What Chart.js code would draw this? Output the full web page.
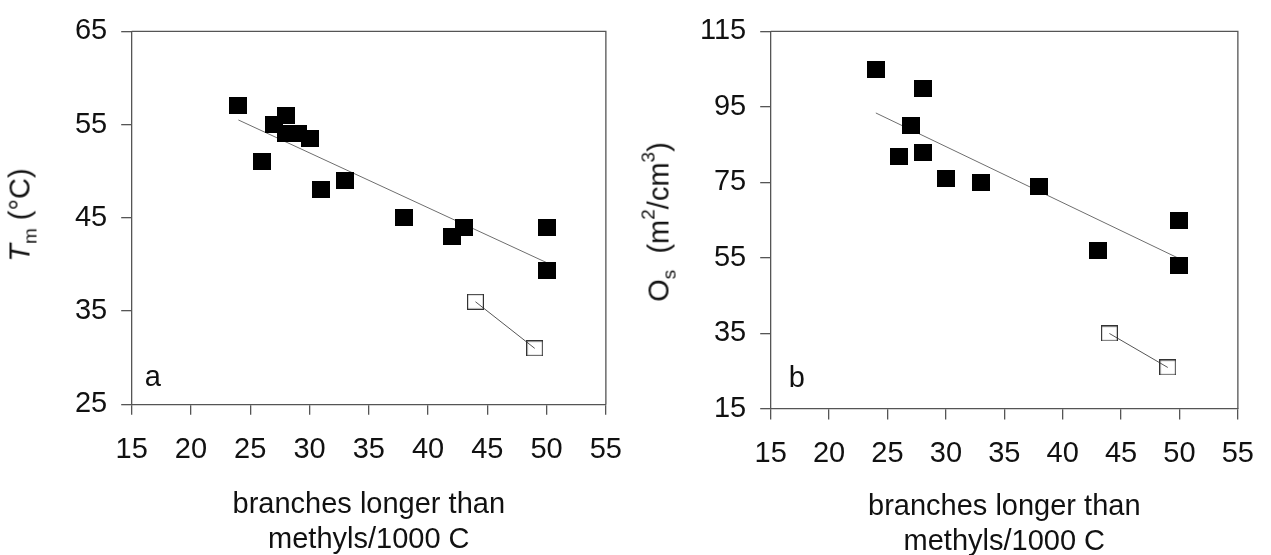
<!DOCTYPE html>
<html><head><meta charset="utf-8">
<script src="https://cdn.jsdelivr.net/npm/chart.js@4"></script>
<style>
html,body{margin:0;padding:0;background:#fff;}
#wrap{position:relative;width:1271px;height:555px;overflow:hidden;background:#fff;}
canvas{position:absolute;top:0;}
.yt{position:absolute;white-space:nowrap;font-family:"Liberation Sans",Arial,sans-serif;font-size:29px;color:#111;transform:translate(-50%,-50%) rotate(-90deg);line-height:1;}
.yt sub{font-size:19px;vertical-align:-0.35em;line-height:0;}
.yt sup{font-size:19px;vertical-align:0.75em;line-height:0;}
</style></head>
<body><div id="wrap">
<canvas id="cA" width="640" height="555" style="left:0"></canvas>
<canvas id="cB" width="632" height="555" style="left:639px"></canvas>
<div class="yt" style="left:20px;top:215px"><i>T</i><sub>m</sub> (°C)</div>
<div class="yt" style="left:659px;top:222px">O<sub>s</sub>&nbsp; (m<sup>2</sup>/cm<sup>3</sup>)</div>
</div>
<script>
// ---- data ----
const xTitle = ['branches longer than', 'methyls/1000 C'];

const aFilledX = [24, 26, 27, 28, 28, 29, 30, 31, 33, 38, 42, 43, 50, 50];
const aFilledY = [57, 51, 55, 56, 54, 54, 53.5, 48, 49, 45, 43, 44, 44, 39.3];
const aOpenX = [44, 49];
const aOpenY = [36, 31];
const aTrendX = [24, 50];
const aTrendY = [55.5, 40.2];
const aYTicks = [25, 65, 10];   // min, max, step

const bFilledX = [24, 26, 27, 28, 28, 30, 33, 38, 43, 50, 50];
const bFilledY = [105, 82, 90, 100, 83, 76, 75, 74, 57, 65, 53];
const bOpenX = [44, 49];
const bOpenY = [35, 26];
const bTrendX = [24, 50];
const bTrendY = [93.4, 54.8];
const bYTicks = [15, 115, 20];

const xTicks = [15, 55, 5];

// ---- drawing ----
const FONT = '"Liberation Sans", Arial, sans-serif';
const AX = '#555';

function squareStyle(w, h, filled) {
  const c = document.createElement('canvas');
  c.width = w; c.height = h;
  const g = c.getContext('2d');
  if (filled) { g.fillStyle = '#000'; g.fillRect(0, 0, w, h); }
  else { g.strokeStyle = '#333'; g.lineWidth = 1.2; g.strokeRect(0.6, 0.6, w - 1.2, h - 1.2); }
  return c;
}
const filledImg = squareStyle(18, 17, true);
const openImg = squareStyle(17, 16, false);

const pts = (xs, ys) => xs.map((x, i) => ({ x: x, y: ys[i] }));

const framePlugin = {
  id: 'frame',
  beforeDatasetsDraw(chart, args, opts) {
    const { ctx, chartArea: a } = chart;
    ctx.save();
    ctx.strokeStyle = AX; ctx.lineWidth = 1.3;
    ctx.beginPath();
    ctx.moveTo(a.left, a.top); ctx.lineTo(a.right, a.top); ctx.lineTo(a.right, a.bottom);
    ctx.stroke();
    ctx.fillStyle = '#111';
    ctx.font = '29px ' + FONT;
    ctx.textAlign = 'center'; ctx.textBaseline = 'alphabetic';
    ctx.fillText(opts.letter, a.left + opts.lx, a.bottom - opts.ly);
    ctx.restore();
  }
};

function makeChart(id, g, fx, fy, ox, oy, tx, ty, yt) {
  return new Chart(document.getElementById(id), {
    type: 'scatter',
    data: {
      datasets: [
        { data: pts(fx, fy), pointStyle: filledImg, pointRadius: 9, showLine: false },
        { data: pts(ox, oy), pointStyle: openImg, pointRadius: 9, showLine: true, borderColor: '#555', borderWidth: 1 },
        { data: pts(tx, ty), pointRadius: 0, showLine: true, borderColor: '#6e6e6e', borderWidth: 1 }
      ]
    },
    options: {
      responsive: false, animation: false, devicePixelRatio: 1,
      layout: { padding: { left: 0, top: g.t, right: g.cw - g.r, bottom: 0 } },
      plugins: { legend: { display: false }, tooltip: { enabled: false }, frame: { letter: g.letter, lx: g.lx, ly: g.ly } },
      scales: {
        x: {
          type: 'linear', min: xTicks[0], max: xTicks[1],
          ticks: { stepSize: xTicks[2], padding: g.xpad, color: '#111', font: { family: FONT, size: 29 }, maxRotation: 0, autoSkip: false },
          grid: { display: true, drawOnChartArea: false, drawTicks: true, tickLength: 10.5, color: AX, lineWidth: 1.3 },
          border: { display: true, color: AX, width: 1.3 },
          title: { display: true, text: xTitle, color: '#111', font: { family: FONT, size: 29, lineHeight: 1.2 }, padding: { top: 0, bottom: g.tpad } },
          afterFit(s) { s.height = g.ch - g.b; }
        },
        y: {
          type: 'linear', min: yt[0], max: yt[1],
          ticks: { stepSize: yt[2], padding: 14, color: '#111', font: { family: FONT, size: 29 } },
          grid: { display: true, drawOnChartArea: false, drawTicks: true, tickLength: 10.5, color: AX, lineWidth: 1.3 },
          border: { display: true, color: AX, width: 1.3 },
          afterFit(s) { s.width = g.l; }
        }
      }
    },
    plugins: [framePlugin]
  });
}

makeChart('cA', { cw: 640, ch: 555, l: 131.7, r: 611.7, t: 26, b: 404.3, xpad: 18, tpad: -2.5, letter: 'a', lx: 21, ly: 18 },
  aFilledX, aFilledY, aOpenX, aOpenY, aTrendX, aTrendY, aYTicks);
makeChart('cB', { cw: 632, ch: 555, l: 131.7, r: 611.7, t: 30, b: 409, xpad: 17, tpad: -4, letter: 'b', lx: 26, ly: 22 },
  bFilledX, bFilledY, bOpenX, bOpenY, bTrendX, bTrendY, bYTicks);
</script>
</body></html>
